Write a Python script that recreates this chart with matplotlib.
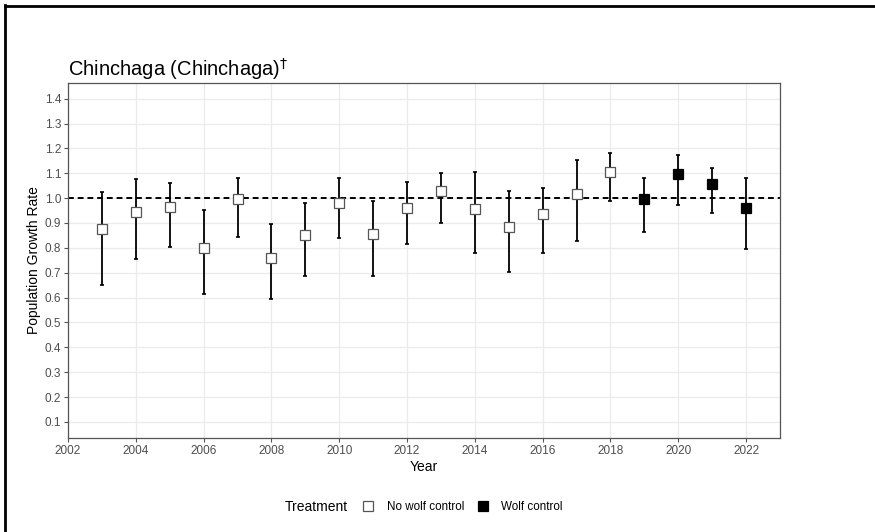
import matplotlib

matplotlib.use('Agg')
import matplotlib.pyplot as plt
from matplotlib.lines import Line2D

plt.rcParams['font.family'] = ['Liberation Sans', 'DejaVu Sans']

years = [2003, 2004, 2005, 2006, 2007, 2008, 2009, 2010, 2011, 2012, 2013,
         2014, 2015, 2016, 2017, 2018, 2019, 2020, 2021, 2022]
growth = [0.874, 0.945, 0.963, 0.800, 0.995, 0.758, 0.851, 0.979, 0.854, 0.961, 1.027,
          0.956, 0.885, 0.936, 1.016, 1.106, 0.995, 1.096, 1.055, 0.962]
lower = [0.650, 0.755, 0.804, 0.613, 0.845, 0.593, 0.687, 0.838, 0.687, 0.814, 0.901,
         0.778, 0.704, 0.780, 0.827, 0.989, 0.862, 0.972, 0.941, 0.795]
upper = [1.025, 1.075, 1.059, 0.952, 1.082, 0.895, 0.979, 1.079, 0.989, 1.063, 1.101,
         1.106, 1.028, 1.039, 1.155, 1.183, 1.082, 1.173, 1.123, 1.082]
treatment = ['No wolf control'] * 16 + ['Wolf control'] * 4

fig = plt.figure(figsize=(8.75, 5.32), dpi=100)
ax = fig.add_axes([68 / 875, 1 - 437.6 / 532, (780 - 68) / 875, (437.6 - 83) / 532])

# error bars
yerr = [[g - l for g, l in zip(growth, lower)], [u - g for g, u in zip(growth, upper)]]
ax.errorbar(years, growth, yerr=yerr, fmt='none', ecolor='black', elinewidth=1.3,
            capsize=1.5, capthick=1.2, zorder=3)

ax.axhline(1.0, color='black', linestyle=(0, (3, 2)), linewidth=1.4, zorder=2)

styles = {'No wolf control': dict(markerfacecolor='white', markeredgecolor='#555555'),
          'Wolf control': dict(markerfacecolor='black', markeredgecolor='black')}
for t, st in styles.items():
    xs = [y for y, tr in zip(years, treatment) if tr == t]
    ys = [g for g, tr in zip(growth, treatment) if tr == t]
    ax.plot(xs, ys, linestyle='none', marker='s', markersize=7.5,
            markeredgewidth=0.9, zorder=4, **st)

ax.set_xlim(2002, 2023)
ax.set_ylim(0.037, 1.463)
ax.set_xticks(range(2002, 2023, 2))
ax.set_yticks([i / 10 for i in range(1, 15)])
ax.set_yticklabels([f'{i / 10:.1f}' for i in range(1, 15)])

ax.grid(True, color='#ebebeb', linewidth=0.9, zorder=0)
ax.set_axisbelow(True)
for s in ax.spines.values():
    s.set_color('#555555')
    s.set_linewidth(0.9)
ax.tick_params(axis='both', colors='#555555', labelcolor='#4d4d4d', labelsize=8.5,
               length=3, width=0.8, pad=2)

ax.set_xlabel('Year', fontsize=10, color='black')
ax.set_ylabel('Population Growth Rate', fontsize=10, color='black')
ax.xaxis.set_label_coords(0.5, -0.063)
ax.yaxis.set_label_coords(-0.038, 0.5)

fig.text(68 / 875, 1 - 76 / 532, r'Chinchaga (Chinchaga)$^{\dagger}$', fontsize=14.5,
         ha='left', va='baseline')

# legend
fig.text(348 / 875, 1 - 507 / 532, 'Treatment', fontsize=10, ha='right', va='center')
handles = [Line2D([], [], linestyle='none', marker='s', markersize=7.5,
                  markeredgewidth=0.9, **styles[t]) for t in styles]
fig.legend(handles, list(styles.keys()), loc='center left',
           bbox_to_anchor=(361 / 875, 1 - 507 / 532), ncol=2, frameon=False,
           fontsize=8.4, handlelength=1.2, handletextpad=1.0, columnspacing=1.0,
           borderaxespad=0, borderpad=0)

# frame lines on the outer image
fig.add_artist(Line2D([4.5 / 875, 4.5 / 875], [0, 1 - 5 / 532], color='black',
                      linewidth=2, transform=fig.transFigure))
fig.add_artist(Line2D([4.5 / 875, 1], [1 - 5.5 / 532, 1 - 5.5 / 532], color='black',
                      linewidth=2, transform=fig.transFigure))

fig.savefig('out.png', dpi=100)
